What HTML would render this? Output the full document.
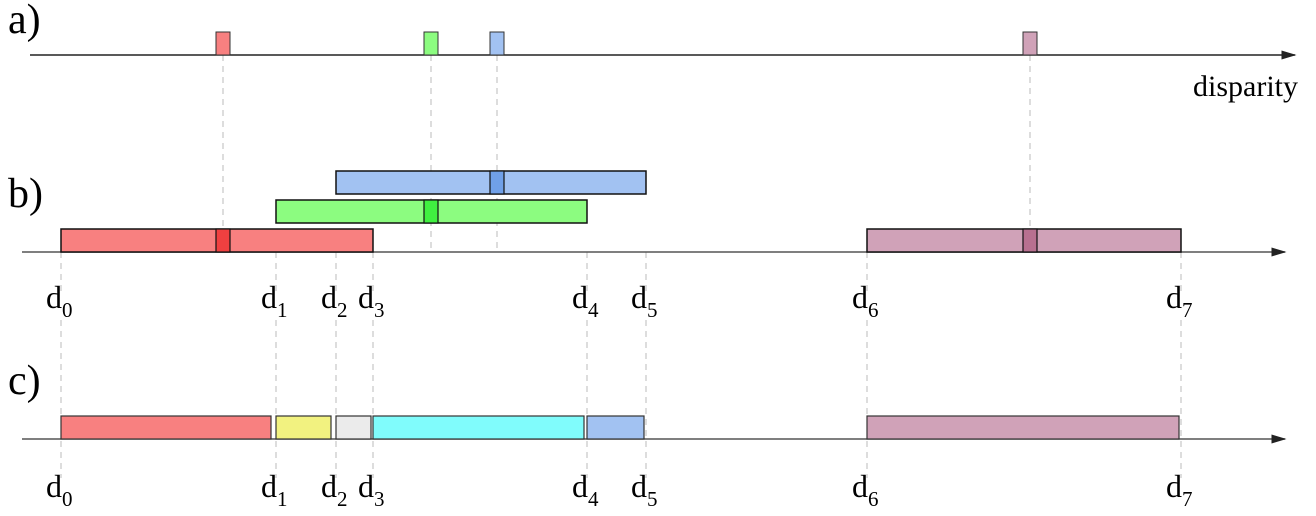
<!DOCTYPE html>
<html><head><meta charset="utf-8"><style>body{margin:0;background:#fff}svg{display:block}text{font-family:"Liberation Serif",serif;fill:#000}</style></head>
<body>
<svg id="c" width="1316" height="516">
<defs><marker id="ar" markerWidth="10" markerHeight="8" refX="9" refY="4" orient="auto"><path d="M0,1 L10,4 L0,7 z" fill="#222"/></marker></defs>
</svg>
<script>
const dPos=[61,276,336,373,587,646,867,1181];
const peaks=[223,431,497,1030];
const peakColors=["#f88080","#8cfc80","#a2c2f2","#d0a2b8"];
const peakDark=["#f04040","#40f040","#70a0e8","#b87090"];
const bRanges=[[61,373,229],[276,587,200],[336,646,171],[867,1181,229]];
const cSegs=[[61,271,"#f88080"],[276,331,"#f2f280"],[336,371,"#ebebeb"],[373,584,"#80fcfc"],[587,644,"#a2c2f2"],[867,1179,"#d0a2b8"]];
const svg=document.getElementById('c');
const NS="http://www.w3.org/2000/svg";
function mk(t,a,name){const e=document.createElementNS(NS,t);for(const k in a)e.setAttribute(k,a[k]);


svg.appendChild(e);return e;}
peaks.forEach((x,i)=>mk('line',{x1:x,y1:55,x2:x,y2:252,stroke:'#bbb','stroke-dasharray':'6,5'},'peak-guide'));
dPos.forEach((x,i)=>{mk('line',{x1:x,y1:252,x2:x,y2:292,stroke:'#bbb','stroke-dasharray':'6,5'},'d-guide-b');
mk('line',{x1:x,y1:320,x2:x,y2:478,stroke:'#bbb','stroke-dasharray':'6,5'},'d-guide-c');});
mk('line',{x1:30,y1:55,x2:1295,y2:55,stroke:'#222','stroke-width':1.5,'marker-end':'url(#ar)'},'axis-a');
mk('line',{x1:22,y1:252,x2:1285,y2:252,stroke:'#555','stroke-width':1.5,'marker-end':'url(#ar)'},'axis-b');
mk('line',{x1:22,y1:439,x2:1285,y2:439,stroke:'#555','stroke-width':1.5,'marker-end':'url(#ar)'},'axis-c');
peaks.forEach((x,i)=>mk('rect',{x:x-7,y:32,width:14,height:23,fill:peakColors[i],stroke:'#333','stroke-width':1},'peak-a'));
bRanges.forEach((r,i)=>{mk('rect',{x:r[0],y:r[2],width:r[1]-r[0],height:23,fill:peakColors[i],stroke:'#111','stroke-width':1.5},'range-bar-b');
mk('rect',{x:peaks[i]-7,y:r[2],width:14,height:23,fill:peakDark[i],stroke:'#111','stroke-width':1.2},'peak-b');});
cSegs.forEach(s=>mk('rect',{x:s[0],y:416,width:s[1]-s[0],height:23,fill:s[2],stroke:'#333','stroke-width':1.2},'segment-c'));
[['a)',33],['b)',207],['c)',394]].forEach(l=>{const t=mk('text',{x:8,y:l[1],'font-size':42},'panel-label');t.textContent=l[0];});
const dt=mk('text',{x:1193,y:96,'font-size':30},'x-axis-title');dt.textContent='disparity';
[308,497].forEach(y=>dPos.forEach((x,i)=>{const t=mk('text',{x:x-15,y:y,'font-size':32},'d-label');
t.textContent='d';const s=document.createElementNS(NS,'tspan');s.setAttribute('font-size',21);s.setAttribute('dy',9);s.textContent=i;t.appendChild(s);}));
</script>
</body></html>
